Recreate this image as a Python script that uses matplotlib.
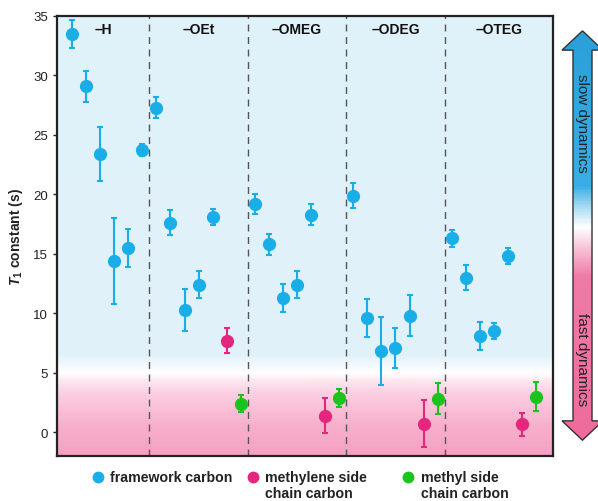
import numpy as np
import matplotlib
matplotlib.use("Agg")
import matplotlib.pyplot as plt
from matplotlib.colors import LinearSegmentedColormap
from matplotlib.patches import Polygon

plt.rcParams['font.family'] = ['Liberation Sans', 'DejaVu Sans']
plt.rcParams['mathtext.fontset'] = 'custom'
plt.rcParams['mathtext.it'] = 'Liberation Sans:italic:bold'
plt.rcParams['mathtext.rm'] = 'Liberation Sans:bold'

# T1 constants (s), per linker group
groups = ['–H', '–OEt', '–OMEG', '–ODEG', '–OTEG']
framework = [
    [33.5, 29.1, 23.4, 14.4, 15.5, 23.7],
    [27.3, 17.6, 10.3, 12.4, 18.1],
    [19.2, 15.8, 11.3, 12.4, 18.3],
    [19.9, 9.6, 6.8, 7.1, 9.8],
    [16.3, 13.0, 8.1, 8.5, 14.8],
]
framework_err = [
    [1.2, 1.3, 2.3, 3.6, 1.6, 0.5],
    [0.9, 1.05, 1.75, 1.15, 0.7],
    [0.87, 0.9, 1.2, 1.15, 0.9],
    [1.08, 1.6, 2.85, 1.7, 1.75],
    [0.72, 1.05, 1.15, 0.7, 0.66],
]
methylene = [None, 7.7, 1.4, 0.7, 0.65]
methylene_err = [None, 1.05, 1.5, 1.97, 0.95]
methyl = [None, 2.4, 2.9, 2.8, 3.0]
methyl_err = [None, 0.7, 0.75, 1.3, 1.25]

c_fw = '#1aaee9'
c_me = '#e5267e'
c_mt = '#1dc31d'

fig = plt.figure(figsize=(5.98, 5.02), dpi=100)
ax = fig.add_axes([57/598, 1-457/502, (553-57)/598, (457-17)/502])
xl = (-1.07, 34.2)
yl = (-2, 35)

# background gradient (pink = fast, blue = slow)
bg = LinearSegmentedColormap.from_list('bg', [
    (0.0, '#f5a0c3'), ((0.5+2)/37, '#f7b0cc'), ((3+2)/37, '#fbcde0'),
    ((4.2+2)/37, '#fde4ee'), ((4.9+2)/37, '#ffffff'), ((6.4+2)/37, '#e1f2fa'),
    (1.0, '#dff1f9')])
grad = np.linspace(0, 1, 500)[:, None]
ax.imshow(grad, cmap=bg, extent=[xl[0], xl[1], yl[0], yl[1]], origin='lower',
          aspect='auto', zorder=0)

ekw = dict(fmt='o', ms=8.5, elinewidth=1.5, capsize=2.5, capthick=1.5, zorder=3)
pos = 0
for i, g in enumerate(groups):
    start = pos
    n = len(framework[i])
    xs = np.arange(pos, pos + n)
    ax.errorbar(xs, framework[i], yerr=framework_err[i], color=c_fw, **ekw)
    pos += n
    if methylene[i] is not None:
        ax.errorbar([pos], [methylene[i]], yerr=[methylene_err[i]], color=c_me, **ekw)
        pos += 1
    if methyl[i] is not None:
        ax.errorbar([pos], [methyl[i]], yerr=[methyl_err[i]], color=c_mt, **ekw)
        pos += 1
    left = xl[0] if i == 0 else start - 0.5
    right = xl[1] if i == len(groups) - 1 else pos - 0.5
    ax.text((left + right) / 2, 33.9, g, ha='center', va='center',
            fontsize=10, fontweight='bold', color='#111')
    if i < len(groups) - 1:
        ax.axvline(pos - 0.5, color='#555555', lw=1, dashes=(5, 4), zorder=1)

ax.set_xlim(*xl)
ax.set_ylim(*yl)
ax.set_xticks([])
ax.set_yticks(np.arange(0, 36, 5))
ax.tick_params(axis='y', labelsize=9.5, length=3, width=1, colors='#222')
for s in ax.spines.values():
    s.set_linewidth(1.6)
    s.set_color('#222')
ax.set_ylabel(r'$T_\mathrm{1}$ constant (s)', fontsize=10, fontweight='bold',
              color='#222')
ax.yaxis.set_label_coords(-0.064, 0.5)

# legend drawn by hand so markers line up with the first text line
leg = [(98, 110, c_fw, 'framework carbon'),
       (253, 265, c_me, 'methylene side\nchain carbon'),
       (408, 421, c_mt, 'methyl side\nchain carbon')]
for mx, tx, c, lab in leg:
    fig.add_artist(plt.Line2D([mx/598], [1-478/502], marker='o', ms=7.5,
                              color=c, transform=fig.transFigure))
    fig.text(tx/598, 1-471/502, lab, ha='left', va='top', fontsize=10.2,
             fontweight='bold', color='#222', linespacing=1.18)

# double arrow on the right
aax = fig.add_axes([561/598, 1-442/502, 37/598, 411/502])
aax.set_xlim(0, 1)
aax.set_ylim(0, 1)
aax.axis('off')
arr = LinearSegmentedColormap.from_list('arr', [
    (0.0, '#ee6b9b'), (0.40, '#f07ba6'), (0.47, '#f8c4d8'), (0.52, '#ffffff'),
    (0.57, '#a8dcf3'), (0.62, '#3aaee5'), (1.0, '#2a9fd9')])
im = aax.imshow(np.linspace(0, 1, 400)[:, None], cmap=arr, extent=[0, 1.2, 0, 1],
                origin='lower', aspect='auto')
s0, s1, hl, hr = 0.324, 0.838, 0.027, 1.133
verts = [(0.58, 0.998), (hr, 0.951), (s1, 0.951), (s1, 0.049), (hr, 0.049),
         (0.58, 0.002), (hl, 0.049), (s0, 0.049), (s0, 0.951), (hl, 0.951)]
poly = Polygon(verts, closed=True, fc='none', ec='#333333', lw=1, clip_on=False)
aax.add_patch(poly)
im.set_clip_path(poly)
fig.text(582/598, 1-123/502, 'slow dynamics', rotation=-90, ha='center', va='center',
         fontsize=11, color='#222')
fig.text(582/598, 1-360/502, 'fast dynamics', rotation=-90, ha='center', va='center',
         fontsize=11, color='#222')

fig.savefig('out.png', dpi=100)
